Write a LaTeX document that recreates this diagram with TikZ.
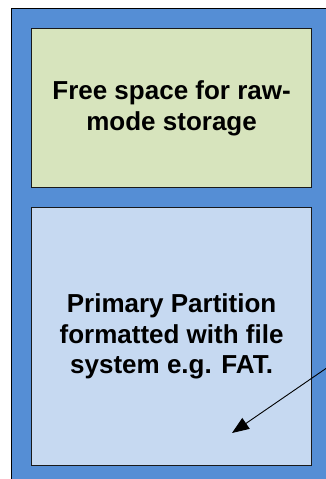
\documentclass[tikz,border=0pt]{standalone}
\usepackage{fontspec}
\setmainfont{Liberation Sans}
\usepackage{xcolor}
\usetikzlibrary{positioning}
\usetikzlibrary{arrows.meta}

\definecolor{cardblue}{RGB}{85,142,213}
\definecolor{rawgreen}{RGB}{215,228,189}
\definecolor{partblue}{RGB}{198,217,241}

\begin{document}
\begin{tikzpicture}[x=1pt, y=-1pt,
  area/.style={draw=black!90, line width=1.2pt, minimum width=280pt,
    align=center, inner sep=0pt, font=\bfseries\fontsize{26}{30.5}\selectfont}]
  \clip (0,0) rectangle (326,479);

  % Tarjeta de fondo (cortada a la derecha y abajo)
  \node[draw, fill=cardblue, line width=0.8pt, anchor=north west,
    minimum width=340pt, minimum height=490pt] (card) at (11,8) {};

  % Zona de arriba
  \node[area, fill=rawgreen, minimum height=159pt, anchor=north west]
    (raw) at (31,28) {Free space for raw-\\mode storage};

  % Zona de abajo
  \node[area, fill=partblue, minimum height=258pt, below=19pt of raw]
    (part) {Primary Partition\\formatted with file\\system e.g. FAT.};

  % Flecha
  \coordinate (tail) at (331,365);
  \coordinate (tip) at (232,433);
  \draw[line width=0.9pt, -{Triangle[length=17pt, width=13pt]}] (tail) -- (tip);
\end{tikzpicture}
\end{document}
